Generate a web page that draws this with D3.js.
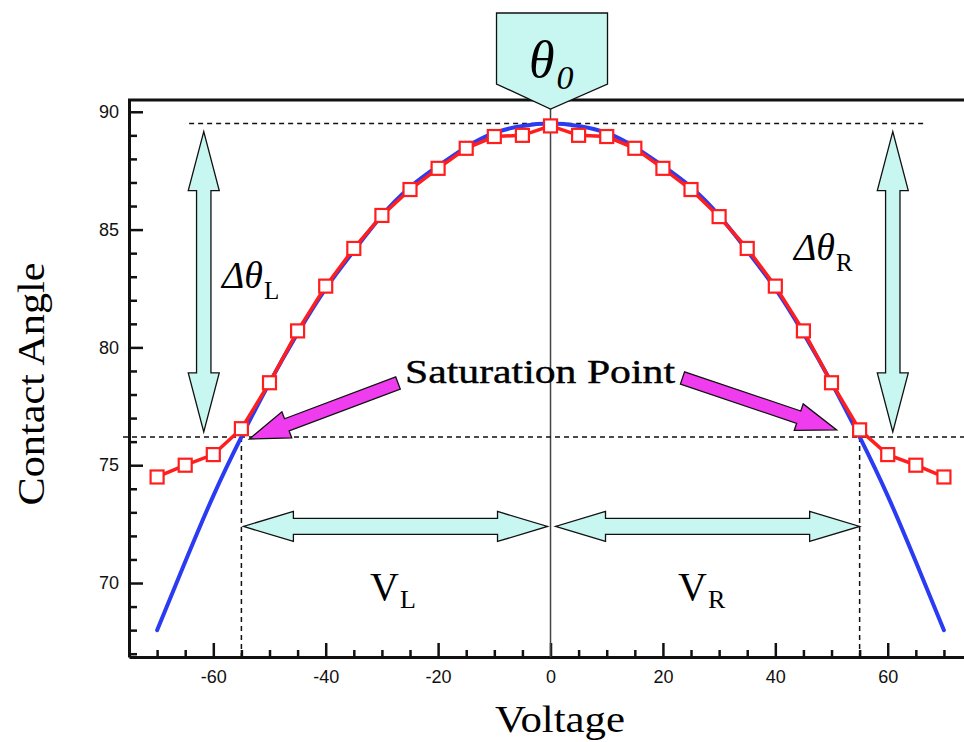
<!DOCTYPE html>
<html>
<head>
<meta charset="utf-8">
<script src="https://cdn.jsdelivr.net/npm/d3@7"></script>
<style>
body { margin: 0; background: #fff; }
svg { display: block; background: #fff; }
</style>
</head>
<body>
<svg width="964" height="742"></svg>
<script>
// voltages where the contact angle was sampled
var voltage = [-70, -65, -60, -55, -50, -45, -40, -35, -30, -25, -20, -15, -10, -5, 0,
               5, 10, 15, 20, 25, 30, 35, 40, 45, 50, 55, 60, 65, 70];
// measured contact angle (red squares)
var measured = [74.5, 75.0, 75.45, 76.55, 78.5, 80.7, 82.6, 84.2, 85.6, 86.7, 87.6, 88.45, 88.95, 89.0, 89.4,
                89.0, 88.95, 88.45, 87.6, 86.7, 85.55, 84.2, 82.6, 80.7, 78.5, 76.5, 75.45, 75.0, 74.5];
// Lippmann-Young curve (blue line)
var theory = [68.0, 70.9, 73.7, 76.2, 78.5, 80.6, 82.5, 84.1, 85.6, 86.8, 87.7, 88.5, 89.1, 89.4, 89.5,
              89.4, 89.1, 88.5, 87.7, 86.8, 85.6, 84.1, 82.5, 80.6, 78.5, 76.2, 73.7, 70.9, 68.0];

var xTicks = [-60, -40, -20, 0, 20, 40, 60];
var yTicks = [70, 75, 80, 85, 90];
var theta0 = 89.5;
var thetaSat = 76.2;
var satVoltage = [-55, 55];

var svg = d3.select("svg"),
    width = +svg.attr("width"),
    height = +svg.attr("height");

var x = d3.scaleLinear().domain([-75, 73.5]).range([129, 963.6]);
var y = d3.scaleLinear().domain([66.86, 90.5]).range([657, 100]);

var cyan = "#c8f6f0", magenta = "#ef3cee";
var serif = "'Liberation Serif', 'Times New Roman', serif";

// axes
var xMinor = d3.range(-70, 71, 5).filter(function(d) { return xTicks.indexOf(d) < 0; });
var yMinor = d3.range(67, 91).filter(function(d) { return yTicks.indexOf(d) < 0; });

svg.append("g")
  .attr("transform", "translate(0,657)")
  .call(d3.axisBottom(x).tickValues(xMinor).tickSizeInner(-7).tickSizeOuter(0).tickFormat(""))
  .call(function(g) { g.select(".domain").remove(); });

svg.append("g")
  .attr("transform", "translate(129,0)")
  .call(d3.axisLeft(y).tickValues(yMinor).tickSizeInner(-8).tickSizeOuter(0).tickFormat(""))
  .call(function(g) { g.select(".domain").remove(); });

svg.append("g")
  .attr("transform", "translate(0,657)")
  .call(d3.axisBottom(x).tickValues(xTicks).tickSizeInner(-14).tickSizeOuter(0).tickPadding(13)
    .tickFormat(function(d) { return String(d); }));

svg.append("g")
  .attr("transform", "translate(129,0)")
  .call(d3.axisLeft(y).tickValues(yTicks).tickSizeInner(-14).tickSizeOuter(0).tickPadding(10)
    .tickFormat(function(d) { return String(d); }));

svg.selectAll(".tick line").attr("stroke", "#111").attr("stroke-width", 2.5);
svg.selectAll(".tick text")
  .attr("fill", "#111")
  .style("font-family", "'Liberation Sans', Arial, sans-serif")
  .style("font-size", "18px");
svg.selectAll(".domain").attr("stroke", "#111").attr("stroke-width", 3);

// top frame line
svg.append("line")
  .attr("x1", 128).attr("x2", width).attr("y1", 100).attr("y2", 100)
  .attr("stroke", "#111").attr("stroke-width", 3);

// axis titles
svg.append("text")
  .attr("x", 560).attr("y", 732)
  .attr("text-anchor", "middle")
  .attr("textLength", 130).attr("lengthAdjust", "spacingAndGlyphs")
  .style("font-family", serif)
  .style("font-size", "37px")
  .text("Voltage");

svg.append("text")
  .attr("transform", "translate(44,384) rotate(-90)")
  .attr("text-anchor", "middle")
  .attr("textLength", 243).attr("lengthAdjust", "spacingAndGlyphs")
  .style("font-family", serif)
  .style("font-size", "37px")
  .text("Contact Angle");

// reference lines
svg.append("line")
  .attr("x1", x(0)).attr("x2", x(0)).attr("y1", 109).attr("y2", 657)
  .attr("stroke", "#444").attr("stroke-width", 1.5);

var dashed = svg.append("g")
  .attr("stroke", "#111").attr("stroke-width", 1.5).attr("stroke-dasharray", "5,4").attr("fill", "none");
dashed.append("line")
  .attr("x1", x(-64.3)).attr("x2", x(66.3)).attr("y1", y(theta0)).attr("y2", y(theta0));
dashed.append("line")
  .attr("x1", 123).attr("x2", width).attr("y1", y(thetaSat)).attr("y2", y(thetaSat));
dashed.selectAll(".vsat")
  .data(satVoltage)
  .enter().append("line")
  .attr("class", "vsat")
  .attr("x1", function(d) { return x(d); }).attr("x2", function(d) { return x(d); })
  .attr("y1", y(thetaSat)).attr("y2", 657);

// arrow shapes
function arrowPoints(x1, y1, x2, y2, headLen, headHalf, shaftHalf, both) {
  var dx = x2 - x1, dy = y2 - y1, len = Math.sqrt(dx * dx + dy * dy);
  var ux = dx / len, uy = dy / len, nx = -uy, ny = ux;
  function p(t, s) { return [x1 + ux * t + nx * s, y1 + uy * t + ny * s]; }
  var pts = [];
  if (both) {
    pts.push(p(0, 0), p(headLen, headHalf), p(headLen, shaftHalf));
  } else {
    pts.push(p(0, shaftHalf));
  }
  pts.push(p(len - headLen, shaftHalf), p(len - headLen, headHalf), p(len, 0),
           p(len - headLen, -headHalf), p(len - headLen, -shaftHalf));
  if (both) {
    pts.push(p(headLen, -shaftHalf), p(headLen, -headHalf));
  } else {
    pts.push(p(0, -shaftHalf));
  }
  return pts.map(function(q) { return q.join(","); }).join(" ");
}

var arrows = svg.append("g").attr("stroke", "#111").attr("stroke-width", 1.3).attr("stroke-linejoin", "miter");

// delta theta arrows
[-61.7, 60.9].forEach(function(v) {
  arrows.append("polygon")
    .attr("points", arrowPoints(x(v), y(theta0) + 8, x(v), y(thetaSat) - 5, 59, 15.5, 7.2, true))
    .attr("fill", cyan);
});

// voltage arrows
arrows.append("polygon")
  .attr("points", arrowPoints(x(satVoltage[0]) + 2, y(72.4), x(0) - 3, y(72.4), 50, 15, 8, true))
  .attr("fill", cyan);
arrows.append("polygon")
  .attr("points", arrowPoints(x(0) + 5, y(72.4), x(satVoltage[1]), y(72.4), 50, 15, 8, true))
  .attr("fill", cyan);

// theta0 marker
var tx = x(0);
arrows.append("polygon")
  .attr("points", [[tx - 54, 13], [tx + 57, 13], [tx + 57, 84], [tx, 109], [tx - 54, 84]]
    .map(function(q) { return q.join(","); }).join(" "))
  .attr("fill", cyan);

// blue curve and red measurements
svg.append("path")
  .datum(d3.zip(voltage, theory))
  .attr("fill", "none")
  .attr("stroke", "#2b3bf2")
  .attr("stroke-width", 4)
  .attr("stroke-linecap", "round")
  .attr("d", d3.line().curve(d3.curveNatural)
    .x(function(d) { return x(d[0]); })
    .y(function(d) { return y(d[1]); }));

svg.append("path")
  .datum(d3.zip(voltage, measured))
  .attr("fill", "none")
  .attr("stroke", "#ff1e1e")
  .attr("stroke-width", 3.5)
  .attr("d", d3.line()
    .x(function(d) { return x(d[0]); })
    .y(function(d) { return y(d[1]); }));

svg.append("g")
  .selectAll("rect")
  .data(d3.zip(voltage, measured))
  .enter().append("rect")
  .attr("x", function(d) { return x(d[0]) - 6.5; })
  .attr("y", function(d) { return y(d[1]) - 6.5; })
  .attr("width", 13).attr("height", 13)
  .attr("fill", "#fff")
  .attr("stroke", "#ff1e1e")
  .attr("stroke-width", 2.2);

// saturation arrows
arrows.append("polygon")
  .attr("points", arrowPoints(398, 383, x(satVoltage[0]) + 8, y(thetaSat) + 2, 40, 14, 6.5, false))
  .attr("fill", magenta);
arrows.append("polygon")
  .attr("points", arrowPoints(682.5, 378, x(satVoltage[1]) - 23, y(thetaSat) - 7, 40, 14, 6.5, false))
  .attr("fill", magenta);

// labels
svg.append("text")
  .attr("x", 405).attr("y", 383)
  .attr("textLength", 270).attr("lengthAdjust", "spacingAndGlyphs")
  .attr("fill", "#000").attr("stroke", "#000").attr("stroke-width", 0.4)
  .style("font-family", serif).style("font-size", "34px")
  .text("Saturation Point");

function subLabel(x0, y0, main, sub, italic, size, subDx, subDy) {
  var t = svg.append("text")
    .attr("x", x0).attr("y", y0)
    .style("font-family", serif);
  t.append("tspan")
    .style("font-size", size + "px")
    .style("font-style", italic ? "italic" : "normal")
    .text(main);
  t.append("tspan")
    .attr("dx", subDx).attr("dy", subDy)
    .style("font-size", Math.round(size * 0.66) + "px")
    .text(sub);
  return t;
}

subLabel(222, 288, "\u0394\u03b8", "L", true, 38, 1, 11);
subLabel(794, 260, "\u0394\u03b8", "R", true, 38, 1, 11);
subLabel(370, 600, "V", "L", false, 40, 1, 8);
subLabel(678, 600, "V", "R", false, 40, 1, 8);

var th = svg.append("text")
  .attr("x", 529).attr("y", 77)
  .style("font-family", serif).style("font-style", "italic");
th.append("tspan").style("font-size", "52px").text("\u03b8");
th.append("tspan").attr("dx", 2).attr("dy", 12).style("font-size", "34px").text("0");
</script>
</body>
</html>
